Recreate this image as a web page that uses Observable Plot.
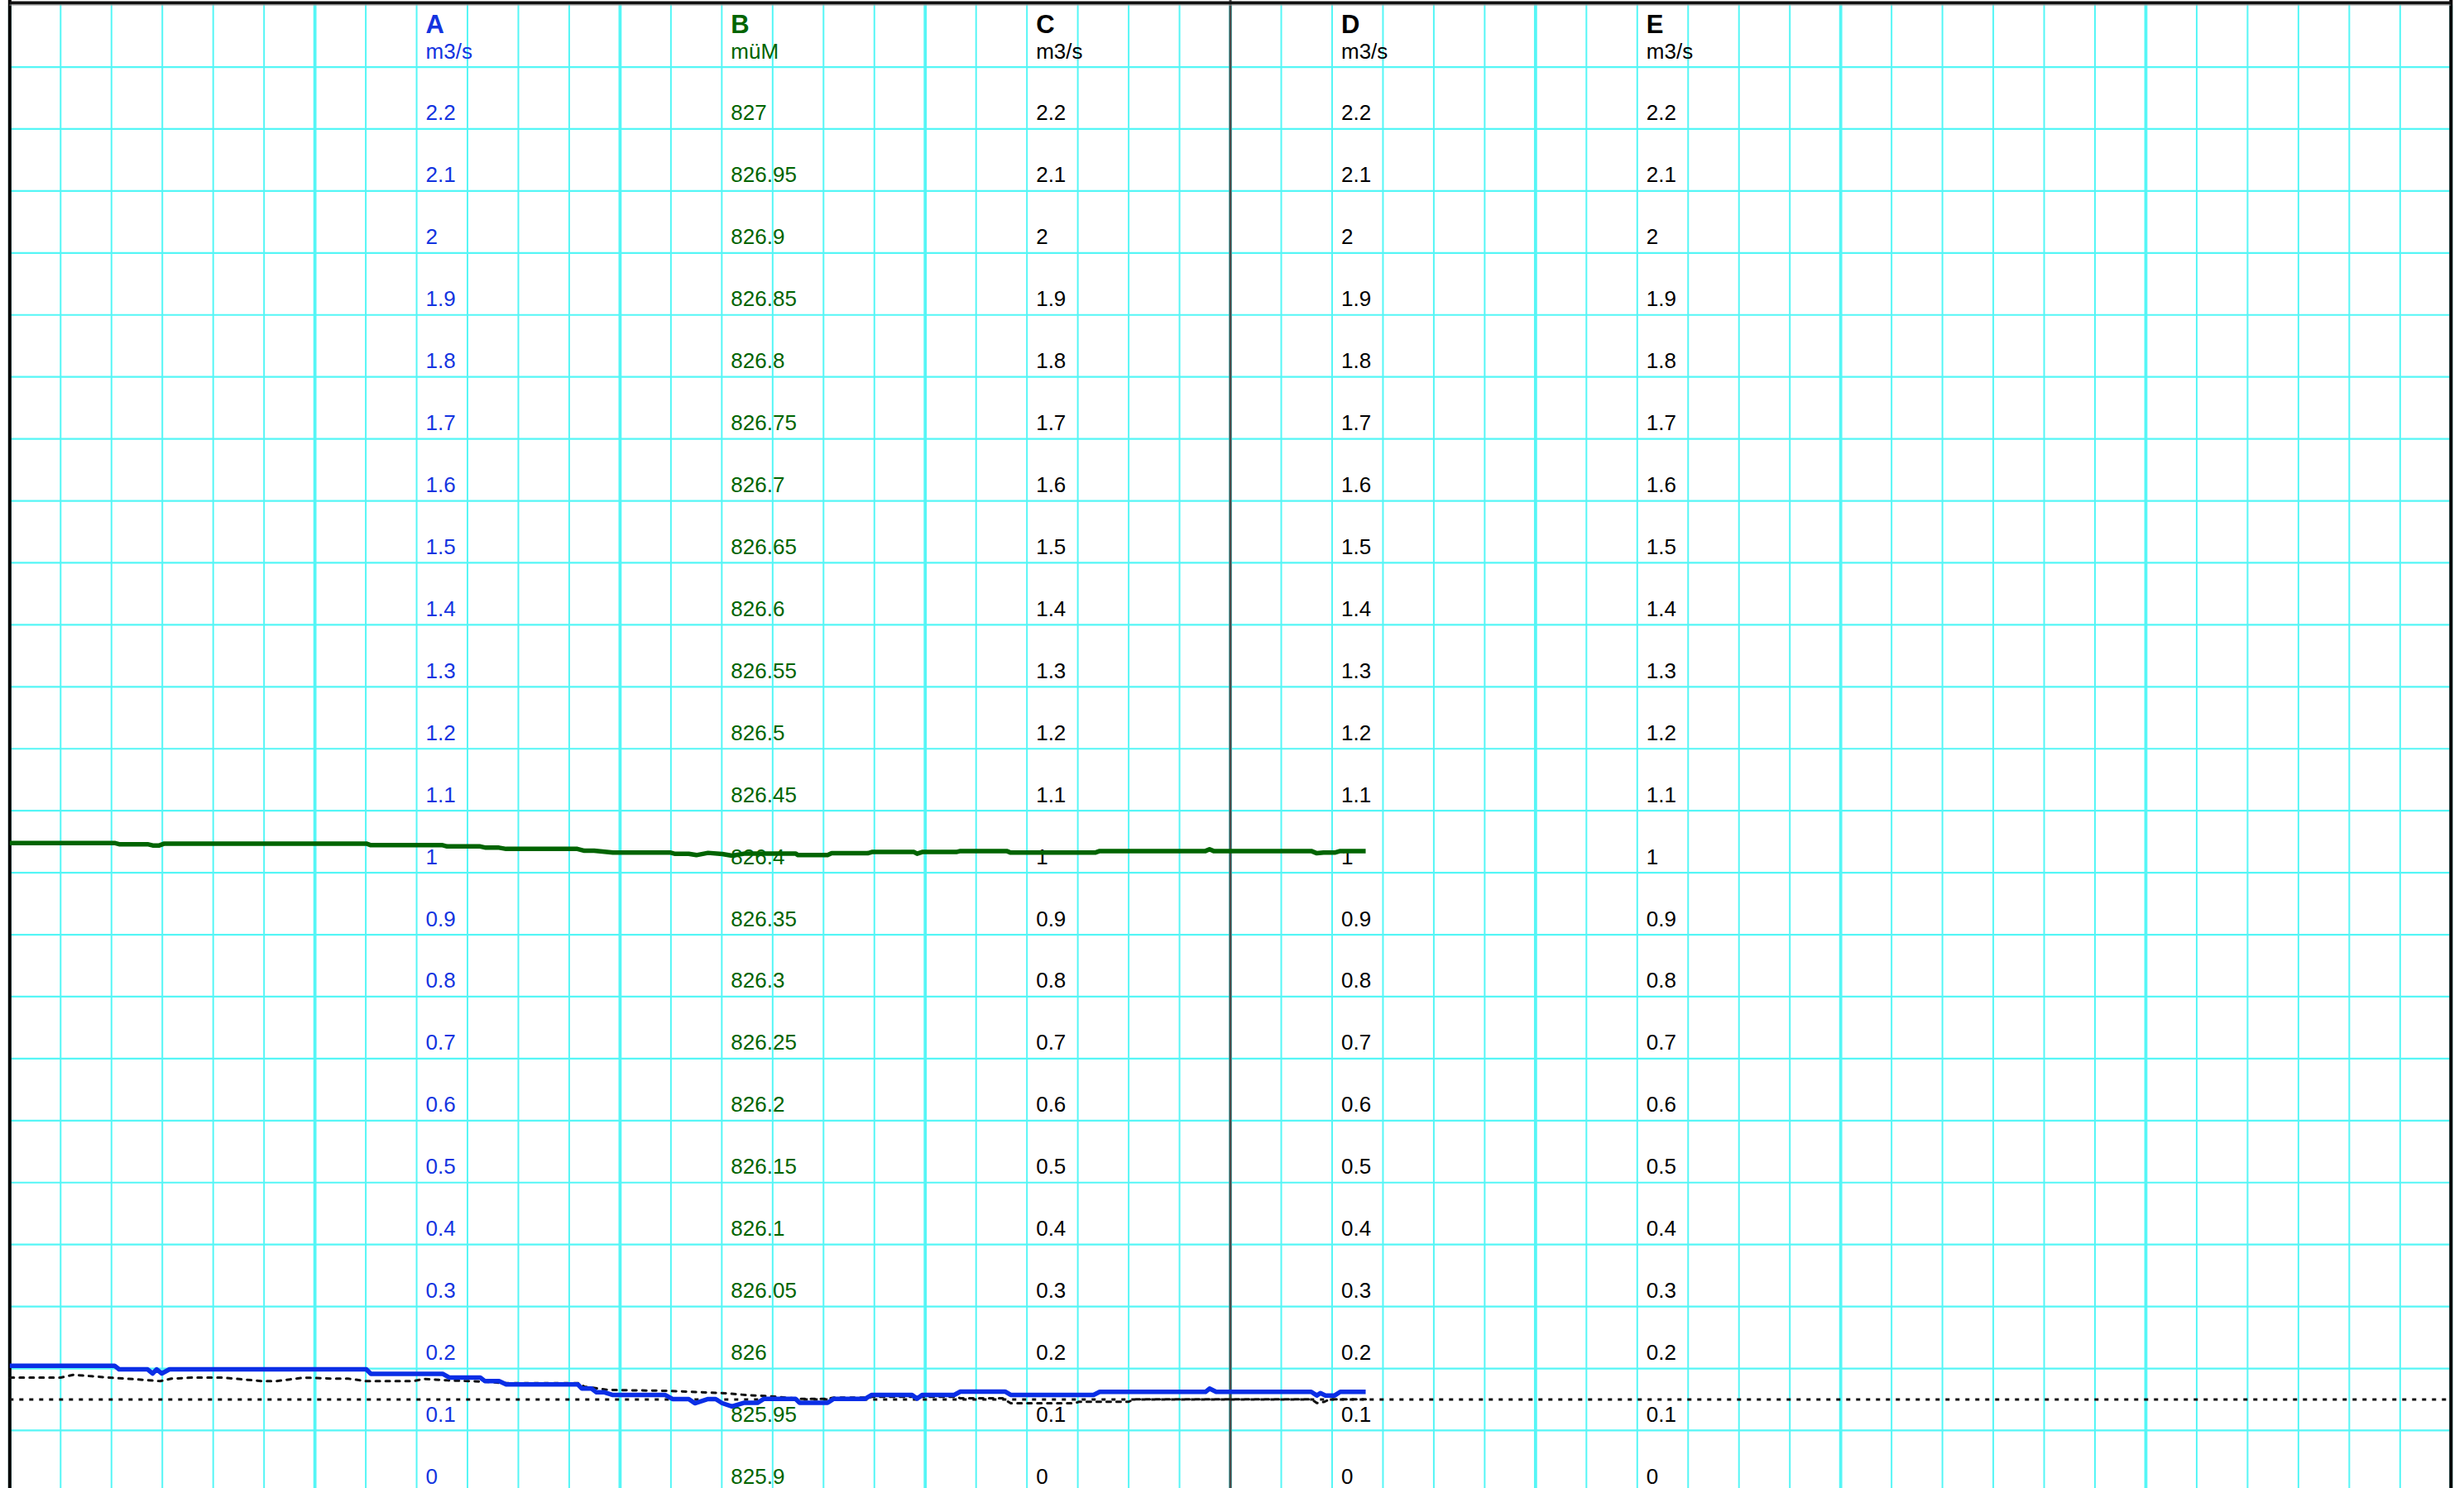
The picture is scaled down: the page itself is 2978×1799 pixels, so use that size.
<!DOCTYPE html>
<html><head><meta charset="utf-8">
<script src="https://cdn.jsdelivr.net/npm/d3@7"></script>
<script src="https://cdn.jsdelivr.net/npm/@observablehq/plot@0.6"></script>
<style>
html,body{margin:0;padding:0;background:#fff;overflow:hidden;}
#chart svg{display:block;}
</style></head><body><div id="chart"></div>
<script>
// ---- data ----
const axisNames = ["A", "B", "C", "D", "E"];
const axisUnits = ["m3/s", "müM", "m3/s", "m3/s", "m3/s"];
const axisHours = [8, 14, 20, 26, 32];
const flowTicks = [2.2, 2.1, 2, 1.9, 1.8, 1.7, 1.6, 1.5, 1.4, 1.3, 1.2, 1.1, 1, 0.9, 0.8, 0.7, 0.6, 0.5, 0.4, 0.3, 0.2, 0.1, 0];
const levelTicks = [827, 826.95, 826.9, 826.85, 826.8, 826.75, 826.7, 826.65, 826.6, 826.55, 826.5, 826.45, 826.4, 826.35, 826.3, 826.25, 826.2, 826.15, 826.1, 826.05, 826, 825.95, 825.9];

// series A (blue, m3/s)
const aHours = [0, 2.06, 2.15, 2.71, 2.81, 2.89, 2.99, 3.14, 7.01, 7.10, 8.51, 8.64, 9.25, 9.34, 9.62, 9.76, 11.17, 11.25, 11.44, 11.53, 11.68, 11.86, 12.89, 13.03, 13.35, 13.47, 13.73, 13.88, 14.01, 14.20, 14.43, 14.70, 14.83, 15.45, 15.53, 16.08, 16.20, 16.82, 16.95, 17.74, 17.84, 17.94, 18.57, 18.69, 19.57, 19.68, 21.31, 21.43, 23.51, 23.59, 23.72, 25.59, 25.70, 25.77, 25.87, 26.05, 26.16, 26.66];
const aFlow = [0.2045, 0.2045, 0.1987, 0.1987, 0.192, 0.1987, 0.192, 0.1987, 0.1987, 0.1915, 0.1915, 0.1854, 0.1854, 0.1798, 0.1798, 0.1743, 0.1743, 0.1676, 0.1676, 0.1618, 0.1618, 0.1573, 0.1573, 0.1507, 0.1507, 0.144, 0.1507, 0.1507, 0.144, 0.1387, 0.1446, 0.1446, 0.1511, 0.1511, 0.1446, 0.1446, 0.1511, 0.1511, 0.1574, 0.1574, 0.1513, 0.1574, 0.1574, 0.1627, 0.1627, 0.1574, 0.1574, 0.1623, 0.1623, 0.1676, 0.1623, 0.1623, 0.1565, 0.1603, 0.1565, 0.1565, 0.1623, 0.1623];

// series B (green, müM)
const bHours = [0, 2.06, 2.15, 2.71, 2.81, 2.94, 3.04, 7.01, 7.10, 8.51, 8.60, 9.25, 9.36, 9.62, 9.76, 11.16, 11.30, 11.49, 11.86, 12.98, 13.07, 13.35, 13.50, 13.73, 14.01, 14.20, 14.46, 15.45, 15.50, 16.08, 16.16, 16.87, 16.95, 17.78, 17.84, 17.94, 18.61, 18.69, 19.60, 19.68, 21.34, 21.43, 23.51, 23.59, 23.67, 25.59, 25.70, 25.83, 26.05, 26.16, 26.66];
const bLevel = [826.424, 826.424, 826.423, 826.423, 826.422, 826.422, 826.4235, 826.4235, 826.4222, 826.4222, 826.4212, 826.4212, 826.4202, 826.4202, 826.4192, 826.4192, 826.4177, 826.4177, 826.4163, 826.4163, 826.4153, 826.4153, 826.4142, 826.416, 826.4151, 826.4137, 826.4155, 826.4155, 826.4142, 826.4142, 826.4157, 826.4157, 826.4167, 826.4167, 826.4153, 826.4167, 826.4167, 826.4175, 826.4175, 826.4162, 826.4162, 826.4175, 826.4175, 826.4189, 826.4175, 826.4175, 826.4157, 826.4162, 826.4162, 826.4175, 826.4175];

// dotted series (m3/s)
const dotHours = [0, 1.0, 1.25, 1.6, 2.1, 2.53, 2.96, 3.18, 3.6, 4.16, 4.42, 4.97, 5.23, 5.51, 5.79, 6.32, 6.65, 7.01, 7.94, 8.13, 8.60, 9.34, 9.72, 11.17, 11.30, 11.78, 12.90, 14.10, 14.46, 14.70, 14.95, 15.53, 16.08, 16.20, 16.87, 16.95, 18.61, 18.69, 19.52, 19.68, 20.94, 21.02, 22.00, 22.10, 25.59, 25.70, 25.85, 25.95, 26.66];
const dotFlow = [0.1853, 0.1853, 0.1898, 0.1876, 0.1845, 0.1823, 0.1796, 0.1837, 0.1853, 0.1853, 0.1837, 0.1796, 0.1796, 0.1825, 0.1853, 0.1837, 0.1837, 0.1796, 0.1796, 0.1832, 0.1809, 0.1787, 0.1765, 0.1765, 0.1707, 0.1654, 0.164, 0.16, 0.1573, 0.1563, 0.1553, 0.1511, 0.1511, 0.153, 0.153, 0.1543, 0.1543, 0.152, 0.152, 0.144, 0.144, 0.1463, 0.1463, 0.1505, 0.1505, 0.1443, 0.1463, 0.1505, 0.1505];

// constant reference (m3/s)
const limitFlow = [0.15];
const nowHour = [24];

// ---- drawing ----
const levelPos = b => (b - 825.9) * 2; // müM -> shared vertical position (826.4 <-> 1)
const axisColors = ["#1434e0", "#006400", "#000", "#000", "#000"];
const cyan = "#55f6f6";
const font = "'Liberation Sans', Arial, Helvetica, sans-serif";

const tickMarks = axisHours.map((h, i) => {
  const isB = i === 1;
  const ticks = isB ? levelTicks : flowTicks;
  return Plot.text(ticks, {
    x: () => h,
    y: d => isB ? levelPos(d) : d,
    text: d => String(d),
    fill: axisColors[i],
    textAnchor: "start",
    lineAnchor: "bottom",
    dx: 11, dy: -10.5,
    fontSize: 26
  });
});

const chart = Plot.plot({
  width: 2978,
  height: 1799,
  marginTop: 0, marginRight: 0, marginBottom: 0, marginLeft: 0,
  x: {domain: [0, 48], range: [11.3, 2961.8], axis: null},
  y: {domain: [0, 2.4], range: [1803.9, 5.6], axis: null},
  style: {fontFamily: font, background: "#fff"},
  marks: [
    // grid
    Plot.ruleY(d3.range(0, 24).map(i => i / 10), {x1: 0, x2: 48, stroke: cyan, strokeWidth: 2.2}),
    Plot.ruleX(d3.range(0, 49).filter(h => h % 6 !== 0), {y1: 0, y2: 2.4, stroke: cyan, strokeWidth: 2}),
    Plot.ruleX(d3.range(0, 49, 6), {y1: 0, y2: 2.4, stroke: cyan, strokeWidth: 3.8}),
    // now line
    Plot.ruleX(nowHour, {stroke: "#4a4a4a", strokeWidth: 3}),
    // frame borders
    Plot.ruleX([0, 48], {stroke: "#000", strokeWidth: 4}),
    Plot.ruleY([2.4], {x1: 0, x2: 48, stroke: "#111", strokeWidth: 4, dy: -2.5}),
    Plot.ruleY([2.4], {x1: 0, x2: 48, stroke: "#999", strokeWidth: 1, dy: 0}),
    // axis headings
    Plot.text(axisNames, {x: (d, i) => axisHours[i], frameAnchor: "top", dy: 39, lineAnchor: "bottom",
      textAnchor: "start", dx: 11, fill: (d, i) => axisColors[i], fontSize: 31, fontWeight: "bold"}),
    Plot.text(axisUnits, {x: (d, i) => axisHours[i], frameAnchor: "top", dy: 70, lineAnchor: "bottom",
      textAnchor: "start", dx: 11, fill: (d, i) => axisColors[i], fontSize: 26}),
    // tick labels
    ...tickMarks,
    // dotted lines
    Plot.ruleY(limitFlow, {x1: 0, x2: 48, stroke: "#111", strokeWidth: 3, strokeDasharray: "5 7"}),
    Plot.line(dotFlow, {x: dotHours, y: d => d, stroke: "#111", strokeWidth: 3, strokeDasharray: "5 7"}),
    // series
    Plot.line(bLevel, {x: bHours, y: d => levelPos(d), stroke: "#006400", strokeWidth: 5.5, strokeLinejoin: "round", strokeLinecap: "butt"}),
    Plot.line(aFlow, {x: aHours, y: d => d, stroke: "#0a2ee6", strokeWidth: 5.5, strokeLinejoin: "round", strokeLinecap: "butt"})
  ]
});
document.getElementById("chart").appendChild(chart);
</script>
</body></html>
